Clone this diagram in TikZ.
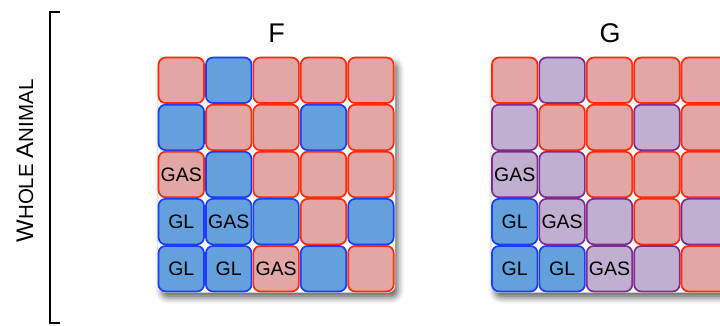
\documentclass[tikz,border=0pt]{standalone}
\usepackage{fontspec}
\setmainfont{Liberation Sans}
\usetikzlibrary{shadows.blur}
\definecolor{redfill}{HTML}{E2A6A4}
\definecolor{redline}{HTML}{FF2A0A}
\definecolor{bluefill}{HTML}{64A0DC}
\definecolor{blueline}{HTML}{1C3CFF}
\definecolor{purpfill}{HTML}{C1AFD1}
\definecolor{purpline}{HTML}{7E2C8E}
\begin{document}
\begin{tikzpicture}[x=1pt,y=-1pt,
  cell/.style={rounded corners=7pt, minimum width=45.5pt, minimum height=45.5pt, inner sep=0pt, line width=1.7pt,
    font=\fontsize{19.5}{20}\selectfont},
  cr/.style={cell, fill=redfill, draw=redline},
  cb/.style={cell, fill=bluefill, draw=blueline},
  cp/.style={cell, fill=purpfill, draw=purpline},
  gridshadow/.style={fill=white, rounded corners=7pt,
    blur shadow={shadow xshift=3pt, shadow yshift=-5pt, shadow blur radius=6pt, shadow opacity=60}},
  title/.style={font=\fontsize{27}{27}\selectfont},
  bracket/.style={line width=2pt}
]
\useasboundingbox (0,0) rectangle (720,325);
% shadows
\path[gridshadow] (158.3,57.3) rectangle (395,292.7);
\path[gridshadow] (491.7,57.3) rectangle (728.4,292.7);
% F grid
\foreach \r/\c/\t/\s in {
  1/1/cr/, 1/2/cb/, 1/3/cr/, 1/4/cr/, 1/5/cr/,
  2/1/cb/, 2/2/cr/, 2/3/cr/, 2/4/cb/, 2/5/cr/,
  3/1/cr/GAS, 3/2/cb/, 3/3/cr/, 3/4/cr/, 3/5/cr/,
  4/1/cb/GL, 4/2/cb/GAS, 4/3/cb/, 4/4/cr/, 4/5/cb/,
  5/1/cb/GL, 5/2/cb/GL, 5/3/cr/GAS, 5/4/cb/, 5/5/cr/}
  \node[\t] (f-\r-\c) at ({181.3+(\c-1)*47.4},{80.3+(\r-1)*47.1}) {\s};
% G grid
\foreach \r/\c/\t/\s in {
  1/1/cr/, 1/2/cp/, 1/3/cr/, 1/4/cr/, 1/5/cr/,
  2/1/cp/, 2/2/cr/, 2/3/cr/, 2/4/cp/, 2/5/cr/,
  3/1/cp/GAS, 3/2/cp/, 3/3/cr/, 3/4/cr/, 3/5/cr/,
  4/1/cb/GL, 4/2/cp/GAS, 4/3/cp/, 4/4/cr/, 4/5/cp/,
  5/1/cb/GL, 5/2/cb/GL, 5/3/cp/GAS, 5/4/cp/, 5/5/cr/}
  \node[\t] (g-\r-\c) at ({514.7+(\c-1)*47.4},{80.3+(\r-1)*47.1}) {\s};
% titles
\node[title] (ftitle) at (276.5,33) {F};
\node[title] (gtitle) at (610,33) {G};
% side label
\node[rotate=90] (whole) at (25,161) {\fontsize{24}{24}\selectfont W\fontsize{20.5}{21}\selectfont HOLE \fontsize{24}{24}\selectfont A\fontsize{20.5}{21}\selectfont NIMAL};
% bracket
\coordinate (b1) at (60,12);
\coordinate (b2) at (49.5,12);
\coordinate (b3) at (49.5,323);
\coordinate (b4) at (60,323);
\draw[bracket] (b1) -- (b2) -- (b3) -- (b4);
\end{tikzpicture}
\end{document}
